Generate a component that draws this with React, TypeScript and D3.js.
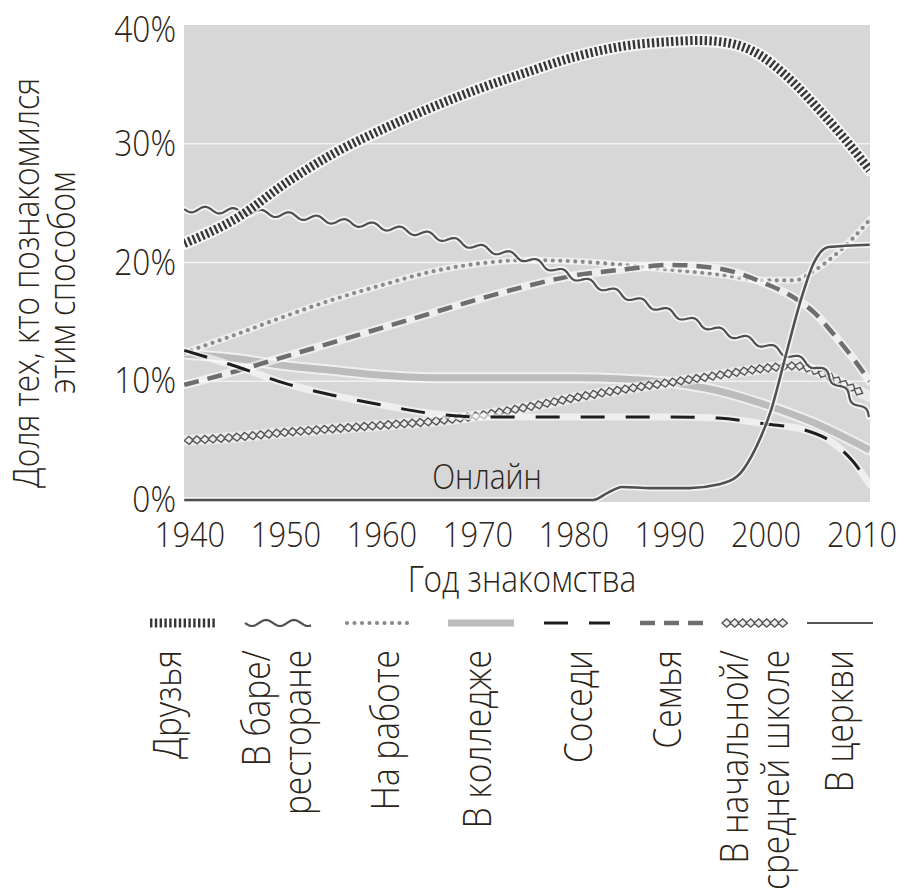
import React, { useEffect, useRef } from "react";
import * as d3 from "d3";

// ---------- DATA (% of couples) ----------
const friendsYears = [1939.4, 1945, 1950, 1955, 1960, 1965, 1970, 1975, 1980, 1985, 1990, 1993, 1996, 1999.3, 2002, 2005.6, 2008, 2010.8];
const friendsValues = [21.6, 23.8, 26.7, 29.2, 31.2, 33.0, 34.6, 36.0, 37.3, 38.2, 38.6, 38.7, 38.5, 37.5, 35.8, 32.8, 30.6, 27.8];

const barYears = [1939.4, 1945, 1950, 1955, 1960, 1965, 1970, 1975, 1980, 1985, 1990, 1995, 2000, 2003, 2006, 2008, 2010.8];
const barValues = [24.5, 24.3, 24.0, 23.5, 23.0, 22.3, 21.3, 20.3, 18.8, 17.3, 15.8, 14.3, 13.0, 12.0, 10.8, 9.3, 7.0];

const workYears = [1939.4, 1945, 1950, 1955, 1960, 1965, 1970, 1975, 1980, 1985, 1990, 1995, 2000, 2003, 2005, 2007, 2009, 2010.8];
const workValues = [12.4, 14.0, 15.5, 16.9, 18.1, 19.2, 19.9, 20.2, 20.1, 19.8, 19.4, 19.0, 18.5, 18.5, 19.3, 20.5, 22.0, 23.6];

const collegeYears = [1939.4, 1945, 1950, 1955, 1960, 1965, 1970, 1975, 1980, 1985, 1990, 1995, 2000, 2005, 2010.8];
const collegeValues = [12.3, 11.9, 11.3, 10.9, 10.5, 10.3, 10.3, 10.3, 10.3, 10.2, 9.9, 9.2, 8.0, 6.5, 4.2];

const neighborsYears = [1939.4, 1945, 1950, 1955, 1960, 1965, 1970, 1980, 1990, 1995, 2000, 2004, 2007, 2009, 2010.8];
const neighborsValues = [12.6, 11.2, 9.8, 8.8, 8.0, 7.3, 7.0, 7.0, 7.0, 6.9, 6.4, 5.9, 4.8, 3.3, 1.3];

const familyYears = [1939.4, 1945, 1950, 1955, 1960, 1965, 1970, 1975, 1980, 1985, 1990, 1995, 2000, 2003, 2005, 2007, 2009, 2010.8];
const familyValues = [9.7, 10.9, 12.1, 13.3, 14.5, 15.7, 16.9, 18.0, 18.9, 19.4, 19.8, 19.5, 18.2, 17.0, 15.8, 14.0, 12.0, 10.0];

const schoolYears = [1939.4, 1945, 1950, 1955, 1960, 1965, 1970, 1975, 1980, 1985, 1990, 1995, 2000, 2003, 2006, 2008, 2010.8];
const schoolValues = [5.0, 5.3, 5.7, 6.0, 6.3, 6.6, 7.1, 7.8, 8.6, 9.3, 9.9, 10.5, 11.1, 11.3, 10.6, 9.8, 8.7];

const onlineYears = [1939.4, 1960, 1982, 1983.5, 1985, 1988, 1992, 1995, 1997, 1999, 2000.5, 2002, 2003.5, 2005, 2006.5, 2010.8];
const onlineValues = [0, 0, 0, 0.6, 1.1, 1.0, 1.0, 1.3, 2.0, 4.5, 7.5, 12.0, 16.5, 20.0, 21.3, 21.5];

const xTicks = [1940, 1950, 1960, 1970, 1980, 1990, 2000, 2010];
const yTicks = [0, 10, 20, 30, 40];

const legendKeys = ["friends", "bar", "work", "college", "neighbors", "family", "school", "church"];
const legendLabels: string[][] = [
  ["Друзья"],
  ["В баре/", "ресторане"],
  ["На работе"],
  ["В колледже"],
  ["Соседи"],
  ["Семья"],
  ["В начальной/", "средней школе"],
  ["В церкви"],
];

const yTitle = ["Доля тех, кто познакомился", "этим способом"];
const xTitle = "Год знакомства";
const onlineLabel = "Онлайн";

// ---------- LAYOUT ----------
const W = 914;
const H = 896;
const PLOT = { left: 184, right: 870, top: 25, bottom: 502 };
const LEGEND_CX = [183, 278, 380, 481, 577, 673, 755, 840];
const LEGEND_TEXT_X = [181, 270, 399, 491, 592, 681, 748, 853];
const LEGEND_Y = 623;
const FONT = "'Open Sans', 'DejaVu Sans', sans-serif";
const TXT = "#2b2419";
const SX = 0.88;

export default function App() {
  const ref = useRef<SVGSVGElement>(null);

  useEffect(() => {
    const svg = d3.select(ref.current as SVGSVGElement);
    svg.selectAll("*").remove();

    const x = d3.scaleLinear().domain([1939.375, 2010.83]).range([PLOT.left, PLOT.right]);
    const y = d3.scaleLinear().domain([0, 40]).range([500, 25]);

    const text = (
      g: any, tx: number, ty: number, str: string, size: number,
      anchor: string, rotate = false
    ) => {
      g.append("text")
        .attr("transform", `translate(${tx},${ty})${rotate ? " rotate(-90)" : ""} scale(${SX},1)`)
        .attr("text-anchor", anchor)
        .style("font-family", FONT)
        .style("font-weight", 300)
        .style("font-size", `${size}px`)
        .attr("fill", TXT)
        .text(str);
    };

    // plot background
    svg.append("rect")
      .attr("x", PLOT.left).attr("y", PLOT.top)
      .attr("width", PLOT.right - PLOT.left).attr("height", PLOT.bottom - PLOT.top)
      .attr("fill", "#d7d7d7");

    // gridlines
    svg.append("g").selectAll("line")
      .data(yTicks.filter((t) => t > 0 && t < 40))
      .join("line")
      .attr("x1", PLOT.left).attr("x2", PLOT.right)
      .attr("y1", (d) => y(d)).attr("y2", (d) => y(d))
      .attr("stroke", "#f2f2f2").attr("stroke-width", 1.5);

    svg.append("defs").append("clipPath").attr("id", "plotclip")
      .append("rect")
      .attr("x", PLOT.left).attr("y", PLOT.top - 10)
      .attr("width", PLOT.right - PLOT.left).attr("height", PLOT.bottom - PLOT.top + 10);

    const plotG = svg.append("g").attr("clip-path", "url(#plotclip)");

    const plain = (g: any, d: string, stroke: string, width: number, dash?: string, cap?: string, op = 1) => {
      const p = g.append("path").attr("d", d).attr("fill", "none")
        .attr("stroke", stroke).attr("stroke-width", width).attr("stroke-opacity", op);
      if (dash) p.attr("stroke-dasharray", dash);
      if (cap) p.attr("stroke-linecap", cap);
      p.attr("stroke-linejoin", "round");
      return p;
    };
    const halo = (g: any, d: string, width: number, op: number) =>
      plain(g, d, "#ffffff", width, undefined, "round", op);

    const wave = (el: SVGPathElement, period: number, amp: number): [number, number][] => {
      const L = el.getTotalLength();
      const pts: [number, number][] = [];
      for (let s = 0; s <= L; s += 1) {
        const p = el.getPointAtLength(s);
        const p1 = el.getPointAtLength(Math.max(0, s - 1));
        const p2 = el.getPointAtLength(Math.min(L, s + 1));
        const dx = p2.x - p1.x, dy = p2.y - p1.y;
        const len = Math.hypot(dx, dy) || 1;
        const nx = -dy / len, ny = dx / len;
        const o = amp * Math.sin((2 * Math.PI * s) / period);
        pts.push([p.x + nx * o, p.y + ny * o]);
      }
      return pts;
    };

    const diamonds = (g: any, el: SVGPathElement, step: number, hl: number, hh: number) => {
      const L = el.getTotalLength();
      for (let s = hl; s <= L - hl + 0.01; s += step) {
        const p = el.getPointAtLength(s);
        const p1 = el.getPointAtLength(Math.max(0, s - 1));
        const p2 = el.getPointAtLength(Math.min(L, s + 1));
        const ang = (Math.atan2(p2.y - p1.y, p2.x - p1.x) * 180) / Math.PI;
        g.append("polygon")
          .attr("points", `${-hl},0 0,${-hh} ${hl},0 0,${hh}`)
          .attr("transform", `translate(${p.x},${p.y}) rotate(${ang})`)
          .attr("fill", "#ececec")
          .attr("stroke", "#555555")
          .attr("stroke-width", 1.4);
      }
    };

    const drawStyled = (g: any, d: string, key: string) => {
      switch (key) {
        case "friends":
          halo(g, d, 13, 0.75);
          plain(g, d, "#373737", 9, "2.4 2.4");
          break;
        case "bar": {
          const tmp = g.append("path").attr("d", d).attr("fill", "none");
          const pts = wave(tmp.node(), 28, 3);
          tmp.remove();
          const wd = d3.line()(pts) as string;
          halo(g, wd, 6, 0.7);
          plain(g, wd, "#4f4f4f", 2.2);
          break;
        }
        case "work":
          halo(g, d, 7, 0.55);
          plain(g, d, "#8a8a8a", 4.2, "0 7.5", "round");
          break;
        case "college":
          halo(g, d, 11, 0.6);
          plain(g, d, "#bcbcbc", 7);
          break;
        case "neighbors":
          halo(g, d, 7, 0.6);
          plain(g, d, "#1e1e1e", 3, "24 21");
          break;
        case "family":
          halo(g, d, 8.5, 0.6);
          plain(g, d, "#6e6e6e", 4.5, "15 9");
          break;
        case "school": {
          const tmp = g.append("path").attr("d", d).attr("fill", "none");
          halo(g, d, 11, 0.5);
          diamonds(g, tmp.node(), 8, 4.7, 4);
          tmp.remove();
          break;
        }
        case "online":
          halo(g, d, 6, 0.7);
          plain(g, d, "#505050", 2.6);
          break;
        default:
          plain(g, d, "#555555", 2.2);
      }
    };

    const line = d3.line<number>().curve(d3.curveMonotoneX);
    const seriesPath = (years: number[], values: number[]) =>
      line.x((_, i) => x(years[i])).y((v) => y(v))(values) as string;

    const series: [string, number[], number[]][] = [
      ["college", collegeYears, collegeValues],
      ["school", schoolYears, schoolValues],
      ["work", workYears, workValues],
      ["family", familyYears, familyValues],
      ["neighbors", neighborsYears, neighborsValues],
      ["bar", barYears, barValues],
      ["friends", friendsYears, friendsValues],
      ["online", onlineYears, onlineValues],
    ];
    series.forEach(([key, ys, vs]) => drawStyled(plotG, seriesPath(ys, vs), key));

    // online label
    text(svg, 487, 489, onlineLabel, 34, "middle");

    // y tick labels
    yTicks.forEach((t) => text(svg, 176, Math.max(y(t) + 12, 42), `${t}%`, 36, "end"));
    // x tick labels
    xTicks.forEach((t) => text(svg, x(t), 547, `${t}`, 35, "middle"));
    // x title
    text(svg, 522, 592, xTitle, 36, "middle");
    // y title (rotated)
    text(svg, 39, 283, yTitle[0], 36, "middle", true);
    text(svg, 75, 283, yTitle[1], 36, "middle", true);

    // legend
    const legG = svg.append("g");
    legendKeys.forEach((key, i) => {
      const cx = LEGEND_CX[i];
      drawStyled(legG, `M${cx - 33},${LEGEND_Y}H${cx + 33}`, key);
      const lines = legendLabels[i];
      lines.forEach((ln, j) => {
        text(legG, LEGEND_TEXT_X[i] + j * 41, 650, ln, 38, "end", true);
      });
    });
  }, []);

  return (
    <svg
      ref={ref}
      width={W}
      height={H}
      style={{ position: "absolute", left: 0, top: 0, display: "block", background: "#ffffff" }}
    />
  );
}
